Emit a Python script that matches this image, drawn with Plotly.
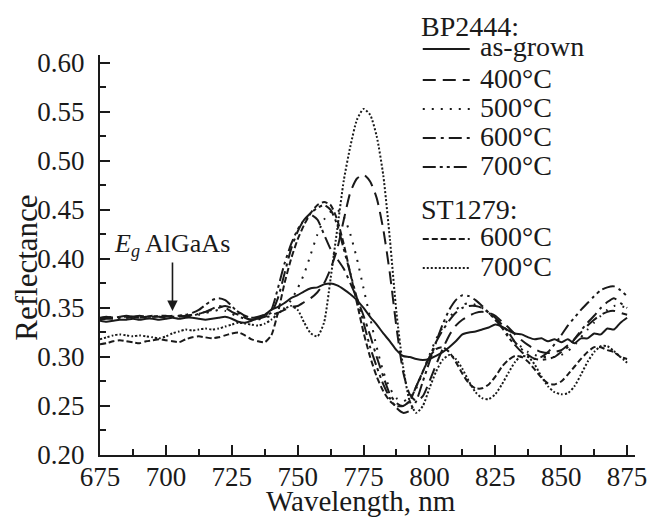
import plotly.graph_objects as go

# ---------------- data ----------------
wavelength = [675 + 2.5 * i for i in range(81)]  # nm

as_grown = [.337, .336, .337, .338, .338, .339, .338, .339, .339, .338,
            .339, .340, .339, .340, .340, .339, .338, .339, .340, .341,
            .339, .336, .335, .337, .340, .343, .348, .351, .355, .360,
            .363, .367, .370, .371, .374, .375, .373, .369, .364, .358,
            .350, .341, .333, .324, .316, .307, .301, .300, .298, .297,
            .298, .301, .305, .310, .316, .323, .325, .326, .328, .330,
            .333, .331, .327, .324, .323, .320, .318, .319, .316, .318,
            .315, .318, .314, .319, .319, .324, .323, .329, .328, .335, .340]

bp_400 = [.340, .341, .340, .341, .342, .341, .340, .341, .342, .341,
          .341, .342, .341, .342, .343, .344, .346, .348, .350, .352,
          .350, .346, .342, .340, .339, .341, .343, .345, .348, .351,
          .352, .356, .360, .366, .375, .390, .410, .440, .468, .482,
          .486, .479, .462, .430, .385, .330, .285, .262, .255, .260,
          .275, .292, .308, .322, .332, .338, .342, .345, .346, .345,
          .342, .336, .330, .323, .317, .312, .308, .305, .304, .305,
          .307, .312, .318, .325, .332, .338, .343, .346, .347, .345, .343]

bp_500 = [.339, .340, .341, .340, .340, .341, .341, .340, .341, .342,
          .341, .341, .342, .343, .342, .343, .345, .346, .348, .347,
          .344, .341, .339, .338, .338, .340, .342, .345, .350, .358,
          .370, .385, .405, .425, .440, .448, .450, .443, .425, .400,
          .370, .340, .310, .285, .268, .258, .255, .258, .268, .285,
          .302, .318, .330, .340, .348, .353, .355, .353, .350, .345,
          .338, .330, .322, .315, .310, .305, .302, .300, .300, .300,
          .302, .306, .312, .320, .328, .335, .342, .348, .352, .352, .350]

bp_600 = [.338, .339, .339, .340, .340, .341, .340, .340, .341, .341,
          .340, .341, .342, .341, .342, .344, .346, .349, .352, .350,
          .346, .343, .341, .340, .341, .343, .345, .360, .385, .410,
          .428, .440, .445, .440, .425, .410, .400, .390, .375, .360,
          .342, .322, .300, .280, .262, .253, .250, .255, .270, .285,
          .300, .315, .327, .337, .345, .350, .352, .352, .350, .345,
          .340, .333, .325, .315, .308, .302, .298, .297, .298, .300,
          .305, .310, .318, .327, .335, .342, .350, .356, .360, .355, .350]

bp_700 = [.339, .340, .340, .341, .341, .341, .342, .341, .341, .342,
          .342, .341, .342, .343, .345, .348, .353, .358, .360, .358,
          .352, .345, .340, .338, .339, .342, .348, .370, .395, .415,
          .430, .440, .447, .452, .455, .450, .435, .410, .385, .360,
          .335, .310, .290, .272, .258, .248, .243, .245, .255, .275,
          .295, .315, .333, .348, .358, .363, .362, .358, .352, .345,
          .338, .330, .320, .312, .305, .300, .298, .300, .305, .313,
          .322, .332, .340, .348, .355, .362, .368, .371, .372, .368, .362]

st_600 = [.313, .314, .316, .317, .316, .315, .314, .316, .317, .318,
          .317, .316, .315, .318, .320, .321, .320, .319, .320, .322,
          .324, .325, .322, .318, .316, .315, .322, .345, .375, .400,
          .420, .435, .447, .455, .458, .455, .440, .415, .385, .355,
          .325, .300, .280, .265, .255, .250, .250, .255, .270, .285,
          .300, .308, .310, .305, .295, .283, .273, .268, .268, .272,
          .280, .290, .297, .301, .300, .295, .287, .279, .273, .272,
          .275, .282, .290, .298, .305, .310, .310, .307, .305, .300, .298]

st_700 = [.318, .320, .322, .323, .322, .321, .322, .321, .320, .319,
          .321, .324, .326, .328, .327, .328, .329, .328, .329, .331,
          .333, .335, .334, .333, .332, .334, .338, .344, .349, .352,
          .348, .335, .324, .321, .335, .380, .430, .480, .515, .542,
          .553, .547, .525, .485, .420, .345, .290, .255, .243, .250,
          .268, .285, .297, .302, .298, .288, .275, .264, .258, .257,
          .262, .272, .284, .295, .301, .300, .292, .280, .270, .264,
          .262, .263, .270, .282, .295, .305, .311, .311, .306, .300, .294]

group_titles = ["BP2444:", "ST1279:"]
series_names = ["as-grown", "400°C", "500°C", "600°C", "700°C", "600°C", "700°C"]
series_values = [as_grown, bp_400, bp_500, bp_600, bp_700, st_600, st_700]

x_ticks = [675, 700, 725, 750, 775, 800, 825, 850, 875]
y_ticks = [0.20, 0.25, 0.30, 0.35, 0.40, 0.45, 0.50, 0.55, 0.60]

x_title = "Wavelength, nm"
y_title = "Reflectance"
annotation_label = "<i>E<sub>g</sub></i> AlGaAs"
annotation_point = (702.5, 0.347)

# ---------------- styles ----------------
FONT = "Liberation Serif"
INK = "#1a1a1a"
dashes = ["solid", "13px,7px", "2px,7px", "13px,5px,3px,5px",
          "13px,4px,3px,4px,3px,4px", "6px,3px", "2px,2px"]
# the page body has an 8px margin, so the figure starts at (8, 8) in the window
OFF = 8
W, H = 656 - OFF, 521 - OFF
ML, MT = 100 - OFF, 55 - OFF
PW, PH = 547, 400
MR, MB = W - ML - PW, H - MT - PH


def px_x(px):  # window px -> paper x
    return (px - 100) / PW


def px_y(py):  # window px -> paper y
    return (455 - py) / PH


fig = go.Figure()
for name, vals, dash in zip(series_names, series_values, dashes):
    fig.add_trace(go.Scatter(
        x=wavelength, y=vals, mode="lines", name=name, showlegend=False,
        line=dict(color=INK, width=2, dash=dash, shape="spline", smoothing=0.6),
    ))

# ---------------- legend (drawn as text + line samples) ----------------
shapes = []
annotations = []
# first group title sits against the top edge of the figure
annotations.append(dict(xref="paper", yref="paper", x=px_x(426), y=px_y(OFF + 1),
                        text=group_titles[0], showarrow=False, xanchor="left", yanchor="top",
                        font=dict(family=FONT, size=28, color=INK)))
annotations.append(dict(xref="paper", yref="paper", x=px_x(426), y=px_y(209),
                        text=group_titles[1], showarrow=False, xanchor="left", yanchor="middle",
                        font=dict(family=FONT, size=28, color=INK)))
item_rows = [47, 78, 107, 136, 165, 237, 266]
for name, dash, py in zip(series_names, dashes, item_rows):
    shapes.append(dict(type="line", xref="paper", yref="paper",
                       x0=px_x(430), x1=px_x(478), y0=px_y(py + 2), y1=px_y(py + 2),
                       line=dict(color=INK, width=2, dash=dash)))
    annotations.append(dict(xref="paper", yref="paper", x=px_x(486), y=px_y(py),
                            text=name, showarrow=False, xanchor="left", yanchor="middle",
                            font=dict(family=FONT, size=28, color=INK)))

annotations.append(dict(x=annotation_point[0], y=annotation_point[1], xref="x", yref="y",
                        text=annotation_label, showarrow=True, ax=0, ay=-66,
                        arrowhead=2, arrowsize=1.3, arrowwidth=1.6, arrowcolor=INK,
                        font=dict(family=FONT, size=26, color=INK)))

# axis titles
annotations.append(dict(xref="paper", yref="paper", x=px_x(367), y=px_y(501),
                        text=x_title, showarrow=False, xanchor="center", yanchor="middle",
                        font=dict(family=FONT, size=29, color=INK)))
annotations.append(dict(xref="paper", yref="paper", x=px_x(24), y=px_y(268),
                        text=y_title, showarrow=False, xanchor="center", yanchor="middle",
                        textangle=-90, font=dict(family=FONT, size=31, color=INK)))

axis_common = dict(showline=True, linecolor=INK, linewidth=2, ticks="inside",
                   ticklen=10, tickwidth=2, tickcolor=INK, showgrid=False,
                   zeroline=False, mirror=False,
                   tickfont=dict(family=FONT, size=27, color=INK))

fig.update_layout(
    width=W, height=H, margin=dict(l=ML, r=MR, t=MT, b=MB),
    paper_bgcolor="white", plot_bgcolor="white",
    font=dict(family=FONT, size=26, color=INK),
    shapes=shapes, annotations=annotations, showlegend=False,
    xaxis=dict(range=[675, 878], tickvals=x_ticks, ticktext=[str(v) for v in x_ticks],
               ticklabeloverflow="allow", ticklabelstandoff=-3,
               minor=dict(dtick=12.5, tick0=675, ticklen=6, tickwidth=2, ticks="inside",
                          tickcolor=INK),
               **axis_common),
    yaxis=dict(range=[0.2, 0.608], tickvals=y_ticks, ticktext=[f"{v:.2f}" for v in y_ticks],
               ticklabelstandoff=8,
               minor=dict(dtick=0.025, tick0=0.2, ticklen=6, tickwidth=2, ticks="inside",
                          tickcolor=INK),
               **axis_common),
)

fig.write_html("out.html")
